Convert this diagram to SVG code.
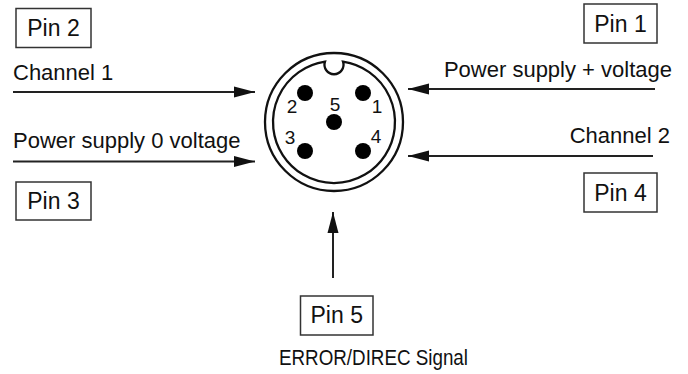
<svg xmlns="http://www.w3.org/2000/svg" width="688" height="374" viewBox="0 0 688 374">
<defs>
<marker id="ah" markerUnits="userSpaceOnUse" markerWidth="22" markerHeight="12" viewBox="0 0 22 12" refX="21" refY="6" orient="auto">
<path d="M0,0.5 L21,6 L0,11.5 Z" fill="#111"/>
</marker>
<style>
.box{fill:#fff;stroke:#333;stroke-width:1.5}
.pin{font-family:"Liberation Sans",Arial,sans-serif;font-size:23px;fill:#111}
.lbl{font-family:"Liberation Sans",Arial,sans-serif;font-size:22px;fill:#111}
.num{font-family:"Liberation Sans",Arial,sans-serif;font-size:19px;fill:#111;text-anchor:middle}
.conn{stroke:#222;stroke-width:2;fill:none;marker-end:url(#ah)}
.ring{fill:none;stroke:#111;stroke-width:2.3}
.dot{fill:#000}
</style>
</defs>
<rect width="688" height="374" fill="#fff"/>
<g id="connectors">
<line class="conn" x1="13" y1="92" x2="255" y2="92"/>
<line class="conn" x1="13" y1="161.5" x2="255" y2="161.5"/>
<line class="conn" x1="655" y1="89" x2="408" y2="89"/>
<line class="conn" x1="653" y1="156" x2="408" y2="156"/>
<line class="conn" x1="333" y1="278" x2="333" y2="212"/>
</g>
<g id="connector-face">
<circle class="ring" cx="334" cy="122" r="69"/>
<path class="ring" d="M325,61.7 A9.5,9.5 0 1 0 343,61.7 A61,61 0 1 1 325,61.7 Z"/>
<circle class="dot" cx="305" cy="93" r="8"/>
<circle class="dot" cx="363" cy="93" r="8"/>
<circle class="dot" cx="334" cy="122" r="8"/>
<circle class="dot" cx="305" cy="151" r="8"/>
<circle class="dot" cx="363" cy="151" r="8"/>
<text class="num" x="292" y="113">2</text>
<text class="num" x="335" y="111">5</text>
<text class="num" x="377" y="113">1</text>
<text class="num" x="290" y="144">3</text>
<text class="num" x="376" y="143">4</text>
</g>
<g id="pin2">
<rect class="box" x="16" y="8.5" width="75" height="39"/>
<text class="pin" x="53.5" y="36" text-anchor="middle">Pin 2</text>
<text class="lbl" x="13" y="80">Channel 1</text>
</g>
<g id="pin3">
<text class="lbl" x="13" y="148">Power supply 0 voltage</text>
<rect class="box" x="16" y="182" width="75" height="38"/>
<text class="pin" x="53.5" y="209" text-anchor="middle">Pin 3</text>
</g>
<g id="pin1">
<rect class="box" x="584" y="4" width="73" height="39"/>
<text class="pin" x="620.5" y="32" text-anchor="middle">Pin 1</text>
<text class="lbl" x="672" y="77" text-anchor="end">Power supply + voltage</text>
</g>
<g id="pin4">
<text class="lbl" x="670" y="143" text-anchor="end">Channel 2</text>
<rect class="box" x="584" y="173" width="73" height="39"/>
<text class="pin" x="620.5" y="201" text-anchor="middle">Pin 4</text>
</g>
<g id="pin5">
<rect class="box" x="300.5" y="296" width="72.5" height="39"/>
<text class="pin" x="336.75" y="323" text-anchor="middle">Pin 5</text>
<text class="pin" x="279" y="365" textLength="189" lengthAdjust="spacingAndGlyphs" style="font-size:22px">ERROR/DIREC Signal</text>
</g>
</svg>
